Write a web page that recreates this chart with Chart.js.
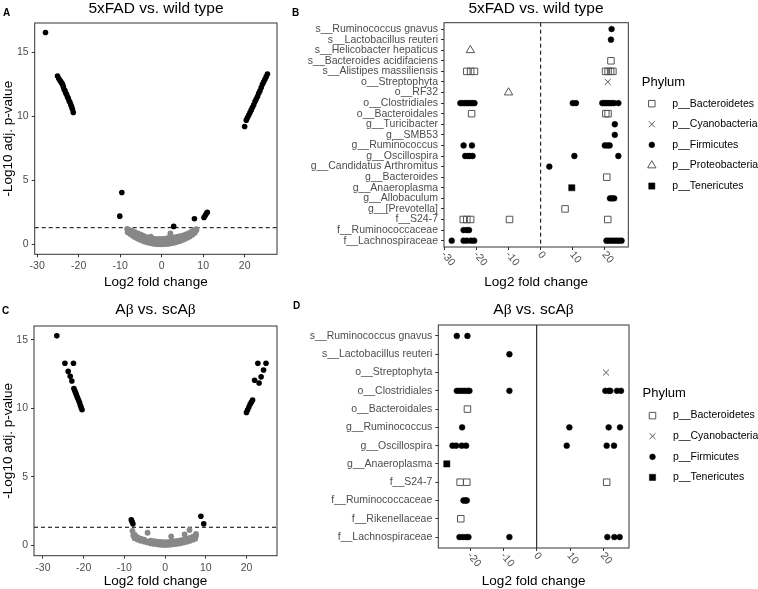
<!DOCTYPE html>
<html>
<head>
<meta charset="utf-8">
<script src="https://cdn.jsdelivr.net/npm/chart.js@4.4.0/dist/chart.umd.min.js"></script>
<style>
  body { margin: 0; background: #fff; }
  #wrap { position: relative; width: 758px; height: 589px; background: #fff; font-family: "Liberation Sans", Arial, sans-serif; }
  canvas { position: absolute; }
  .ttl { position: absolute; text-align: center; font-size: 15.5px; line-height: 17px; color: #000; white-space: nowrap; }
  .lbl { position: absolute; font-size: 10px; font-weight: bold; line-height: 12px; }
  .b { font-family: "Liberation Serif", serif; }
</style>
</head>
<body>
<div id="wrap">
  <canvas id="cA" width="282" height="290" style="left:0;top:0"></canvas>
  <canvas id="cB" width="508" height="290" style="left:250px;top:0"></canvas>
  <canvas id="cC" width="282" height="299" style="left:0;top:290px"></canvas>
  <canvas id="cD" width="508" height="299" style="left:250px;top:290px"></canvas>

  <div class="lbl" style="left:3px;top:7px">A</div>
  <div class="lbl" style="left:292px;top:7px">B</div>
  <div class="lbl" style="left:2px;top:305px">C</div>
  <div class="lbl" style="left:293px;top:300px">D</div>

  <div class="ttl" style="left:35px;width:242px;top:-1px">5xFAD vs. wild type</div>
  <div class="ttl" style="left:444px;width:184px;top:-1px">5xFAD vs. wild type</div>
  <div class="ttl" style="left:34px;width:243px;top:300px">A<span class="b">β</span> vs. scA<span class="b">β</span></div>
  <div class="ttl" style="left:438px;width:191px;top:300px">A<span class="b">β</span> vs. scA<span class="b">β</span></div>
</div>
<script>
// ---------- data: panel A (5xFAD vs. wild type, volcano)
const volcanoXTicks = [-30, -20, -10, 0, 10, 20];
const volcanoYTicks = [0, 5, 10, 15];
const pThreshold = 1.3;

const aSigX = [-28, -25.1, -24.8, -24.5, -24.3, -24.1, -23.9, -23.7, -23.5, -23.3, -23.1, -22.9, -22.7, -22.5, -22.3, -22.1, -21.9, -21.7, -21.5, -21.3,
  -10.1, -9.6, 2.9, 7.9, 10.2, 10.5, 10.8, 11.0,
  20.0, 20.4, 20.7, 21.0, 21.3, 21.6, 21.9, 22.2, 22.5, 22.8, 23.1, 23.4, 23.7, 24.0, 24.3, 24.6, 24.9, 25.2, 25.5];
const aSigY = [16.55, 13.15, 12.95, 12.8, 12.7, 12.6, 12.5, 12.3, 12.1, 12.0, 11.8, 11.7, 11.5, 11.4, 11.2, 11.1, 10.9, 10.75, 10.55, 10.3,
  2.2, 4.05, 1.4, 2.0, 2.1, 2.25, 2.4, 2.5,
  9.2, 9.7, 9.9, 10.1, 10.3, 10.5, 10.7, 10.9, 11.15, 11.35, 11.55, 11.8, 12.0, 12.25, 12.5, 12.7, 12.9, 13.1, 13.3];

const aNsX = [-8.2, -7.6, -7, -6.4, -5.8, -5.2, -4.6, -4, -3.4, -2.8, -2.2, -1.6, -1, -0.4, 0.2, 0.8, 1.4, 2, 2.6, 3.2, 3.8, 4.4, 5, 5.6, 6.2, 6.8, 7.4, 8,
  -8, -7.3, -6.7, -6.1, -5.5, -4.9, -4.3, -3.7, -3.1, -2.5, -1.9, -1.3, -0.7, 0, 0.6, 1.2, 1.8, 2.4, 3, 3.6, 4.2, 4.8, 5.4, 6, 6.6, 7.2, 7.8, 8.4,
  -8.3, -7.8, -7.1, -6.4, -5.7, -5, -4.4, -3.8, -3.2, -2.6, -2.3, -1.7, -1.1, -0.5, 0.3, 0.9, 1.6, 2.1, 2.4, 3, 3.6, 4.2, 4.8, 5.4, 6, 6.6, 7.2, 7.8, 8.3,
  -6.9, -5.3, -3.5, -2, -0.9, 0.5, 1.9, 3.3, 4.6, 5.9, 7, -4.7, -1.4, 1.1, 3.9, 6.4];
const aNsY = [0.95, 0.8, 0.66, 0.55, 0.45, 0.36, 0.28, 0.21, 0.15, 0.1, 0.06, 0.03, 0.01, 0, 0, 0.01, 0.03, 0.06, 0.1, 0.14, 0.2, 0.26, 0.34, 0.42, 0.52, 0.62, 0.75, 0.9,
  1.1, 0.95, 0.82, 0.7, 0.6, 0.5, 0.42, 0.35, 0.28, 0.22, 0.17, 0.13, 0.1, 0.09, 0.1, 0.13, 0.17, 0.22, 0.27, 0.33, 0.4, 0.47, 0.55, 0.64, 0.74, 0.86, 1.0, 1.12,
  1.2, 1.12, 1.05, 0.95, 0.85, 0.75, 0.66, 0.58, 0.5, 0.6, 0.45, 0.42, 0.4, 0.42, 0.42, 0.44, 0.5, 0.85, 0.55, 0.55, 0.58, 0.62, 0.66, 0.72, 0.8, 0.88, 0.98, 1.08, 1.18,
  0.9, 0.62, 0.42, 0.3, 0.24, 0.25, 0.33, 0.42, 0.55, 0.72, 0.9, 0.58, 0.27, 0.28, 0.48, 0.8];

// ---------- data: panel C (Abeta vs. scAbeta, volcano)
const cSigX = [-26.6, -24.6, -22.5, -23.8, -23.3, -22.9,
  -22.4, -22.2, -22.0, -21.8, -21.6, -21.4, -21.2, -21.0, -20.8, -20.6, -20.4,
  -8.3, -8.1, -7.9, 8.8, 9.5,
  20.0, 20.3, 20.6, 20.9, 21.2, 21.5, 22.0, 23.1, 23.6, 24.2, 22.8, 24.8];
const cSigY = [15.3, 13.3, 13.3, 12.7, 12.35, 12.0,
  11.45, 11.3, 11.15, 11.0, 10.85, 10.7, 10.55, 10.4, 10.2, 10.05, 9.9,
  1.85, 1.7, 1.55, 2.1, 1.55,
  9.7, 9.9, 10.1, 10.3, 10.45, 10.6, 12.05, 11.85, 12.3, 12.8, 13.3, 13.3];

const cNsX = [-7.5, -6.8, -6, -5.2, -4.4, -3.6, -2.8, -2, -1.2, -0.4, 0.4, 1.2, 2, 2.8, 3.6, 4.4, 5.2, 6, 6.8, 7.4,
  -7.8, -7.1, -6.4, -5.6, -4.8, -4, -3.2, -2.4, -1.6, -0.8, 0, 0.8, 1.6, 2.4, 3.2, 4, 4.8, 5.6, 6.4, 7.1, 7.6,
  -8, -7.4, -4.3, -6.7, -5.9, -5.1, -3.5, -2.7, -1.9, -1.1, -0.3, 0.5, 1.5, 1.3, 2.1, 2.9, 3.7, 4.8, 4.5, 5.3, 6, 6.1, 6.8, 7.6];
const cNsY = [0.5, 0.4, 0.32, 0.25, 0.19, 0.13, 0.08, 0.05, 0.02, 0, 0, 0.02, 0.05, 0.08, 0.12, 0.17, 0.23, 0.3, 0.38, 0.46,
  0.7, 0.55, 0.45, 0.37, 0.3, 0.25, 0.2, 0.16, 0.13, 0.11, 0.1, 0.11, 0.13, 0.16, 0.2, 0.25, 0.3, 0.37, 0.45, 0.55, 0.68,
  1.03, 0.75, 0.9, 0.55, 0.47, 0.4, 0.32, 0.28, 0.25, 0.23, 0.22, 0.22, 0.64, 0.25, 0.28, 0.3, 0.34, 0.78, 0.4, 0.46, 1.1, 0.53, 0.62, 0.81];

// ---------- data: panel B (5xFAD vs. wild type, taxa)
const dotXTicksB = [-30, -20, -10, 0, 10, 20];
const dotXTicksD = [-20, -10, 0, 10, 20];

const bTaxa = ['s__Ruminococcus gnavus', 's__Lactobacillus reuteri', 's__Helicobacter hepaticus', 's__Bacteroides acidifaciens',
  's__Alistipes massiliensis', 'o__Streptophyta', 'o__RF32', 'o__Clostridiales', 'o__Bacteroidales', 'g__Turicibacter', 'g__SMB53',
  'g__Ruminococcus', 'g__Oscillospira', 'g__Candidatus Arthromitus', 'g__Bacteroides', 'g__Anaeroplasma', 'g__Allobaculum',
  'g__[Prevotella]', 'f__S24-7', 'f__Ruminococcaceae', 'f__Lachnospiraceae'];

const bBacteroidetes = [[-23, 's__Alistipes massiliensis'], [-21.8, 's__Alistipes massiliensis'], [-20.6, 's__Alistipes massiliensis'],
  [21.9, 's__Bacteroides acidifaciens'], [20.2, 's__Alistipes massiliensis'], [21, 's__Alistipes massiliensis'], [21.8, 's__Alistipes massiliensis'], [22.5, 's__Alistipes massiliensis'],
  [-21.5, 'o__Bacteroidales'], [20.3, 'o__Bacteroidales'], [21, 'o__Bacteroidales'], [20.6, 'g__Bacteroides'], [7.6, 'g__[Prevotella]'],
  [-24.1, 'f__S24-7'], [-23, 'f__S24-7'], [-21.8, 'f__S24-7'], [-9.7, 'f__S24-7'], [20.9, 'f__S24-7']];
const bCyanobacteria = [[20.9, 'o__Streptophyta']];
const bFirmicutes = [[22.1, 's__Ruminococcus gnavus'], [21.9, 's__Lactobacillus reuteri'],
  [-25, 'o__Clostridiales'], [-24.3, 'o__Clostridiales'], [-23.6, 'o__Clostridiales'], [-23, 'o__Clostridiales'], [-22.4, 'o__Clostridiales'], [-21.8, 'o__Clostridiales'], [-21.2, 'o__Clostridiales'], [-20.6, 'o__Clostridiales'],
  [10, 'o__Clostridiales'], [11, 'o__Clostridiales'], [19.2, 'o__Clostridiales'], [19.8, 'o__Clostridiales'], [20.4, 'o__Clostridiales'], [21, 'o__Clostridiales'], [21.6, 'o__Clostridiales'], [22.2, 'o__Clostridiales'], [22.9, 'o__Clostridiales'], [24.2, 'o__Clostridiales'],
  [23.1, 'g__Turicibacter'], [23.1, 'g__SMB53'],
  [-24, 'g__Ruminococcus'], [-21.4, 'g__Ruminococcus'], [20, 'g__Ruminococcus'], [20.8, 'g__Ruminococcus'], [21.5, 'g__Ruminococcus'],
  [-23.5, 'g__Oscillospira'], [-22.7, 'g__Oscillospira'], [-22, 'g__Oscillospira'], [-21.2, 'g__Oscillospira'], [10.5, 'g__Oscillospira'], [24.2, 'g__Oscillospira'],
  [2.7, 'g__Candidatus Arthromitus'], [21.6, 'g__Allobaculum'], [22.2, 'g__Allobaculum'], [22.9, 'g__Allobaculum'],
  [-24, 'f__Ruminococcaceae'], [-23, 'f__Ruminococcaceae'], [-22.3, 'f__Ruminococcaceae'],
  [-27.7, 'f__Lachnospiraceae'], [-24, 'f__Lachnospiraceae'], [-23, 'f__Lachnospiraceae'], [-21.7, 'f__Lachnospiraceae'], [-20.7, 'f__Lachnospiraceae'],
  [20.5, 'f__Lachnospiraceae'], [21.2, 'f__Lachnospiraceae'], [22, 'f__Lachnospiraceae'], [22.8, 'f__Lachnospiraceae'], [23.6, 'f__Lachnospiraceae'], [24.4, 'f__Lachnospiraceae'], [25.2, 'f__Lachnospiraceae']];
const bProteobacteria = [[-21.9, 's__Helicobacter hepaticus'], [-10, 'o__RF32']];
const bTenericutes = [[9.7, 'g__Anaeroplasma']];

// ---------- data: panel D (Abeta vs. scAbeta, taxa)
const dTaxa = ['s__Ruminococcus gnavus', 's__Lactobacillus reuteri', 'o__Streptophyta', 'o__Clostridiales', 'o__Bacteroidales',
  'g__Ruminococcus', 'g__Oscillospira', 'g__Anaeroplasma', 'f__S24-7', 'f__Ruminococcaceae', 'f__Rikenellaceae', 'f__Lachnospiraceae'];

const dBacteroidetes = [[-20.8, 'o__Bacteroidales'], [-23, 'f__S24-7'], [-21, 'f__S24-7'], [21, 'f__S24-7'], [-22.8, 'f__Rikenellaceae']];
const dCyanobacteria = [[20.8, 'o__Streptophyta']];
const dFirmicutes = [[-24, 's__Ruminococcus gnavus'], [-20.8, 's__Ruminococcus gnavus'], [-8.2, 's__Lactobacillus reuteri'],
  [-24, 'o__Clostridiales'], [-23.2, 'o__Clostridiales'], [-22.4, 'o__Clostridiales'], [-21.6, 'o__Clostridiales'], [-20.8, 'o__Clostridiales'], [-20.2, 'o__Clostridiales'], [-8.2, 'o__Clostridiales'],
  [20.6, 'o__Clostridiales'], [21.6, 'o__Clostridiales'], [22.1, 'o__Clostridiales'], [24.1, 'o__Clostridiales'], [25.3, 'o__Clostridiales'],
  [-22.4, 'g__Ruminococcus'], [9.8, 'g__Ruminococcus'], [21.6, 'g__Ruminococcus'], [25, 'g__Ruminococcus'],
  [-25.3, 'g__Oscillospira'], [-24.2, 'g__Oscillospira'], [-22.5, 'g__Oscillospira'], [-21.2, 'g__Oscillospira'], [9, 'g__Oscillospira'], [21, 'g__Oscillospira'], [23.2, 'g__Oscillospira'],
  [-22, 'f__Ruminococcaceae'], [-21.5, 'f__Ruminococcaceae'], [-21, 'f__Ruminococcaceae'],
  [-23.2, 'f__Lachnospiraceae'], [-22.2, 'f__Lachnospiraceae'], [-21.2, 'f__Lachnospiraceae'], [-20.5, 'f__Lachnospiraceae'], [-8.2, 'f__Lachnospiraceae'],
  [21.2, 'f__Lachnospiraceae'], [23.3, 'f__Lachnospiraceae'], [24.9, 'f__Lachnospiraceae']];
const dTenericutes = [[-27, 'g__Anaeroplasma']];

// ---------- styles
Chart.defaults.font.family = "'Liberation Sans', Arial, sans-serif";
Chart.defaults.animation = false;
const TICK = '#4d4d4d', FRAME = '#333';

const phylumStyle = {
  'p__Bacteroidetes': { pointStyle: 'rect', pointRadius: 4.6, borderColor: '#555', backgroundColor: 'rgba(0,0,0,0)', borderWidth: 1 },
  'p__Cyanobacteria': { pointStyle: 'crossRot', pointRadius: 4.2, borderColor: '#555', backgroundColor: 'rgba(0,0,0,0)', borderWidth: 1 },
  'p__Firmicutes': { pointStyle: 'circle', pointRadius: 2.9, borderColor: '#000', backgroundColor: '#000', borderWidth: 0.5 },
  'p__Proteobacteria': { pointStyle: 'triangle', pointRadius: 4.8, borderColor: '#555', backgroundColor: 'rgba(0,0,0,0)', borderWidth: 1 },
  'p__Tenericutes': { pointStyle: 'rect', pointRadius: 4.4, borderColor: '#000', backgroundColor: '#000', borderWidth: 0.5 }
};

// ---------- plugins
const frame = {
  id: 'frame',
  afterDatasetsDraw(chart) {
    const a = chart.chartArea, ctx = chart.ctx;
    ctx.save();
    ctx.strokeStyle = FRAME;
    ctx.lineWidth = 1;
    ctx.strokeRect(a.left, a.top, a.right - a.left, a.bottom - a.top);
    ctx.restore();
  }
};

const refLine = {
  id: 'refLine',
  beforeDatasetsDraw(chart, args, opts) {
    const a = chart.chartArea, ctx = chart.ctx;
    ctx.save();
    ctx.strokeStyle = '#000';
    ctx.lineWidth = 1;
    ctx.setLineDash(opts.dash || []);
    ctx.beginPath();
    if (opts.axis === 'y') {
      const y = chart.scales.y.getPixelForValue(opts.value);
      ctx.moveTo(a.left, y); ctx.lineTo(a.right, y);
    } else {
      const x = chart.scales.x.getPixelForValue(opts.value);
      ctx.moveTo(x, a.top); ctx.lineTo(x, a.bottom);
    }
    ctx.stroke();
    ctx.restore();
  }
};

const slantTicks = {
  id: 'slantTicks',
  afterDraw(chart) {
    const s = chart.scales.x, ctx = chart.ctx;
    ctx.save();
    ctx.font = "10.5px 'Liberation Sans', Arial, sans-serif";
    ctx.fillStyle = TICK;
    ctx.textAlign = 'left';
    ctx.textBaseline = 'middle';
    s.ticks.forEach(t => {
      ctx.save();
      ctx.translate(s.getPixelForValue(t.value) - 1, chart.chartArea.bottom + 6);
      ctx.rotate(50 * Math.PI / 180);
      ctx.fillText(String(t.value), 0, 0);
      ctx.restore();
    });
    ctx.restore();
  }
};

function glyph(ctx, st, x, y) {
  const r = st.pointRadius;
  ctx.save();
  ctx.strokeStyle = st.borderColor;
  ctx.fillStyle = st.backgroundColor;
  ctx.lineWidth = st.borderWidth;
  ctx.beginPath();
  if (st.pointStyle === 'circle') {
    ctx.arc(x, y, r, 0, Math.PI * 2);
  } else if (st.pointStyle === 'rect') {
    const h = r * Math.SQRT1_2;
    ctx.rect(x - h, y - h, 2 * h, 2 * h);
  } else if (st.pointStyle === 'crossRot') {
    const h = r * Math.SQRT1_2;
    ctx.moveTo(x - h, y - h); ctx.lineTo(x + h, y + h);
    ctx.moveTo(x - h, y + h); ctx.lineTo(x + h, y - h);
  } else if (st.pointStyle === 'triangle') {
    ctx.moveTo(x, y - r);
    ctx.lineTo(x + r * 0.866, y + r * 0.5);
    ctx.lineTo(x - r * 0.866, y + r * 0.5);
    ctx.closePath();
  }
  ctx.fill();
  ctx.stroke();
  ctx.restore();
}

const phylumLegend = {
  id: 'phylumLegend',
  afterDraw(chart, args, opts) {
    const a = chart.chartArea, ctx = chart.ctx;
    const names = opts.names, n = names.length;
    const mid = (a.top + a.bottom) / 2;
    const y0 = mid - (n - 1) / 2 * 20.6 + 10;
    ctx.save();
    ctx.fillStyle = '#000';
    ctx.textBaseline = 'middle';
    ctx.font = "13px 'Liberation Sans', Arial, sans-serif";
    ctx.fillText('Phylum', a.right + 13.5, y0 - 21.7);
    ctx.font = "10.5px 'Liberation Sans', Arial, sans-serif";
    names.forEach((nm, i) => {
      const y = y0 + i * 20.6;
      glyph(ctx, phylumStyle[nm], a.right + 23.5, y);
      ctx.fillStyle = '#000';
      ctx.fillText(nm, a.right + 44, y);
    });
    ctx.restore();
  }
};

// ---------- builders
function fixedTicks(values) {
  return s => { s.ticks = values.map(v => ({ value: v })); };
}

function volcano(id, box, sigX, sigY, nsX, nsY, xr, yr) {
  new Chart(document.getElementById(id), {
    type: 'scatter',
    data: {
      datasets: [
        { data: nsX.map((x, i) => ({ x, y: nsY[i] })), pointRadius: 2.9, pointBorderWidth: 0, backgroundColor: '#888', borderColor: '#888' },
        { data: sigX.map((x, i) => ({ x, y: sigY[i] })), pointRadius: 2.8, pointBorderWidth: 0, backgroundColor: '#000', borderColor: '#000' }
      ]
    },
    options: {
      responsive: false,
      events: [],
      layout: { padding: { top: box.top, right: box.right, left: 0, bottom: 0 } },
      plugins: { legend: { display: false }, tooltip: { enabled: false }, refLine: { axis: 'y', value: pThreshold, dash: [4, 3] } },
      scales: {
        x: {
          type: 'linear', min: xr[0], max: xr[1],
          afterBuildTicks: fixedTicks(volcanoXTicks),
          afterFit: s => { s.height = box.xh; },
          ticks: { color: TICK, font: { size: 10.5 }, padding: 3, maxRotation: 0 },
          grid: { drawOnChartArea: false, drawTicks: true, tickLength: 3, color: FRAME },
          border: { display: false },
          title: { display: true, text: 'Log2 fold change', color: '#000', font: { size: 13.5 }, padding: { top: box.xtp, bottom: 0 } }
        },
        y: {
          type: 'linear', min: yr[0], max: yr[1],
          afterBuildTicks: fixedTicks(volcanoYTicks),
          afterFit: s => { s.width = box.yw; },
          ticks: { color: TICK, font: { size: 10.5 }, padding: 3 },
          grid: { drawOnChartArea: false, drawTicks: true, tickLength: 3, color: FRAME },
          border: { display: false },
          title: { display: true, text: '-Log10 adj. p-value', color: '#000', font: { size: 13.5 }, padding: { top: 0, bottom: 0 } }
        }
      }
    },
    plugins: [frame, refLine]
  });
}

function taxaPlot(id, box, taxa, groups, xr, xTicks, dash) {
  const datasets = groups.map(([name, pts]) => Object.assign({
    label: name,
    data: pts.map(([x, t]) => ({ x, y: taxa.indexOf(t) }))
  }, phylumStyle[name]));
  new Chart(document.getElementById(id), {
    type: 'scatter',
    data: { datasets },
    options: {
      responsive: false,
      events: [],
      layout: { padding: { top: box.top, right: box.right, left: 0, bottom: 0 } },
      plugins: {
        legend: { display: false }, tooltip: { enabled: false },
        refLine: { axis: 'x', value: 0, dash },
        phylumLegend: { names: groups.map(g => g[0]) }
      },
      scales: {
        x: {
          type: 'linear', min: xr[0], max: xr[1],
          afterBuildTicks: fixedTicks(xTicks),
          afterFit: s => { s.height = box.xh; },
          ticks: { display: false },
          grid: { drawOnChartArea: false, drawTicks: true, tickLength: 3, color: FRAME },
          border: { display: false },
          title: { display: true, text: 'Log2 fold change', color: '#000', font: { size: 13.5 }, padding: { top: box.xtp, bottom: 0 } }
        },
        y: {
          type: 'linear', reverse: true, min: -0.6, max: taxa.length - 0.4,
          afterBuildTicks: fixedTicks(taxa.map((t, i) => i)),
          afterFit: s => { s.width = box.yw; },
          ticks: { color: TICK, font: { size: 10.5, lineHeight: 1 }, padding: 3, autoSkip: false, callback: v => taxa[v] },
          grid: { drawOnChartArea: false, drawTicks: true, tickLength: 3, color: FRAME },
          border: { display: false }
        }
      }
    },
    plugins: [frame, refLine, slantTicks, phylumLegend]
  });
}

volcano('cA', { top: 23, right: 5, xh: 35.7, yw: 34.7, xtp: 3 }, aSigX, aSigY, aNsX, aNsY, [-30.6, 27.8], [-0.78, 17.29]);
volcano('cC', { top: 36, right: 5, xh: 33.3, yw: 34, xtp: 1 }, cSigX, cSigY, cNsX, cNsY, [-32.2, 27.5], [-0.78, 16.02]);

taxaPlot('cB', { top: 22.7, right: 129.7, xh: 43, yw: 194, xtp: 3 }, bTaxa,
  [['p__Bacteroidetes', bBacteroidetes], ['p__Cyanobacteria', bCyanobacteria], ['p__Firmicutes', bFirmicutes],
   ['p__Proteobacteria', bProteobacteria], ['p__Tenericutes', bTenericutes]],
  [-30.1, 27.3], dotXTicksB, [4, 3]);
taxaPlot('cD', { top: 35, right: 129, xh: 41, yw: 188.3, xtp: 0 }, dTaxa,
  [['p__Bacteroidetes', dBacteroidetes], ['p__Cyanobacteria', dCyanobacteria], ['p__Firmicutes', dFirmicutes],
   ['p__Tenericutes', dTenericutes]],
  [-29.55, 27.7], dotXTicksD, []);
</script>
</body>
</html>
